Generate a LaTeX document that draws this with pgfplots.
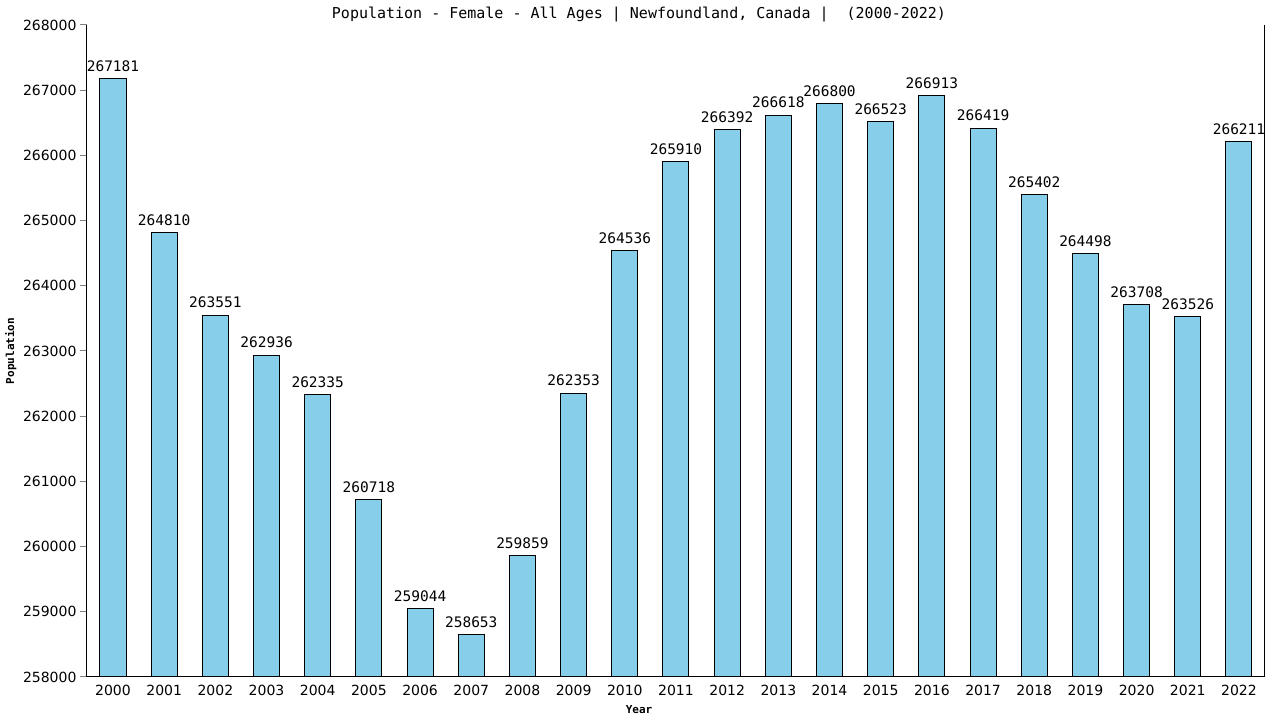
\documentclass[border=0pt]{standalone}
\usepackage{pgfplots}
\pgfplotsset{compat=1.18}
\usepackage{fontspec}
\setmainfont{DejaVu Sans}
\newfontfamily\monofont{DejaVu Sans Mono}
\definecolor{barblue}{HTML}{87CEEB}

\begin{document}
\begin{tikzpicture}[x=1pt,y=1pt]
\path (0,0) rectangle (1280,720);
\begin{axis}[
    at={(87pt,43pt)}, anchor=south west,
    scale only axis,
    width=1178pt, height=652pt,
    ybar, bar width=26pt,
    xmin=1999.492, xmax=2022.508,
    ymin=258000, ymax=268000,
    scaled x ticks=false, scaled y ticks=false,
    axis lines*=left,
    axis line style={line width=1pt},
    xtick={2000,2001,...,2022},
    ytick={258000,259000,...,268000},
    x tick style={draw=none},
    y tick style={line width=1pt},
    major tick length=7pt,
    tick align=outside,
    /pgf/number format/.cd, fixed, precision=0, 1000 sep={}, assume math mode=true,
    /pgfplots/.cd,
    ticklabel style={font=\fontsize{14}{14}\selectfont},
    xticklabel style={yshift=2pt},
    nodes near coords,
    every node near coord/.append style={font=\monofont\fontsize{14.5}{14}\selectfont, inner sep=3pt, yshift=3.5pt},
    title={\monofont\fontsize{15}{15}\selectfont Population - Female - All Ages | Newfoundland, Canada |~~(2000-2022)},
    title style={at={(0.4686,1)}, anchor=center, yshift=4pt},
    xlabel={\monofont\bfseries\fontsize{11}{11}\selectfont Year},
    ylabel={\monofont\bfseries\fontsize{11}{11}\selectfont Population},
    xlabel style={at={(0.4686,0)}, anchor=north, yshift=-25pt},
    ylabel style={at={(0,0.5)}, anchor=south, yshift=67pt},
    clip=false,
]
\addplot[fill=barblue, draw=black, line width=1pt] coordinates {
    (2000,267181) (2001,264810) (2002,263551) (2003,262936) (2004,262335)
    (2005,260718) (2006,259044) (2007,258653) (2008,259859) (2009,262353)
    (2010,264536) (2011,265910) (2012,266392) (2013,266618) (2014,266800)
    (2015,266523) (2016,266913) (2017,266419) (2018,265402) (2019,264498)
    (2020,263708) (2021,263526) (2022,266211)
};
\draw[line width=1pt] (rel axis cs:1,0) -- (rel axis cs:1,1);
\end{axis}
\end{tikzpicture}
\end{document}
